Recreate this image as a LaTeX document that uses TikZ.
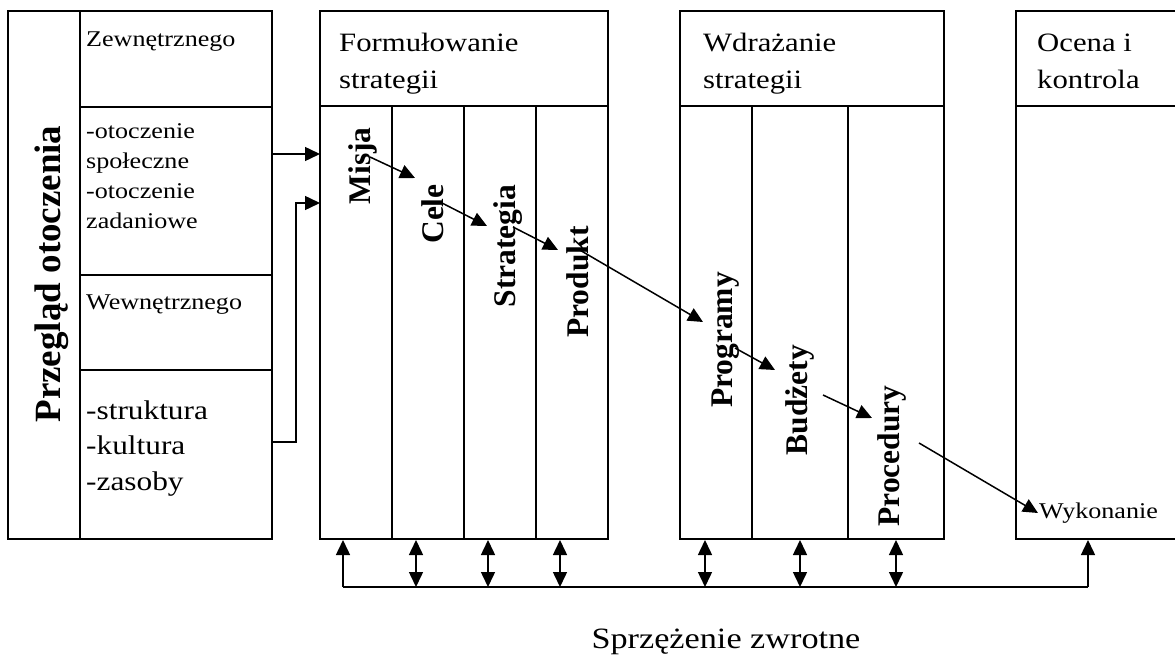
\documentclass[tikz,border=0pt]{standalone}
\usepackage{fontspec}
\setmainfont{Liberation Serif}[FakeStretch=1.16]
\newfontfamily\uprightserif{Liberation Serif}
\usetikzlibrary{arrows.meta}

\begin{document}
\begin{tikzpicture}[x=1pt,y=-1pt,
  panel/.style={draw=black,line width=1.8pt,inner sep=0pt,outer sep=0pt,minimum height=528pt},
  rule/.style={draw=black,line width=1.8pt},
  conn/.style={line width=1.5pt,-{Triangle[length=15pt,width=14pt]}},
  both/.style={line width=1.5pt,{Triangle[length=15pt,width=14pt]}-{Triangle[length=15pt,width=14pt]}},
  plain/.style={line width=1.5pt},
  % multi-line texts are placed by the baseline of their last line
  small/.style={anchor=base west,inner sep=0pt,align=left,font=\fontsize{22.5}{30.3}\selectfont},
  large/.style={anchor=base west,inner sep=0pt,align=left,font=\fontsize{27}{35.5}\selectfont},
  header/.style={anchor=base west,inner sep=0pt,align=left,font=\fontsize{26.5}{37}\selectfont},
  stage/.style={rotate=90,anchor=base,inner sep=0pt,font=\uprightserif\bfseries\fontsize{31.5}{36}\selectfont},
]
\useasboundingbox (0,0) rectangle (1175,655);

% ---- panels ----
\node[panel,minimum width=264pt] (review) at (140,275) {};
\node[panel,minimum width=288pt] (form)   at (464,275) {};
\node[panel,minimum width=264pt] (impl)   at (812,275) {};
\node[panel,minimum width=169pt] (eval)   at (1100.5,275) {};

% inner divisions of the review panel
\draw[rule] (80,11) -- (80,539);
\draw[rule] (80,107) -- (272,107);
\draw[rule] (80,275) -- (272,275);
\draw[rule] (80,370) -- (272,370);

% headers and columns
\draw[rule] (320,106) -- (608,106);
\foreach \c in {392,464,536} \draw[rule] (\c,106) -- (\c,539);
\draw[rule] (680,106) -- (944,106);
\foreach \c in {752,848} \draw[rule] (\c,106) -- (\c,539);
\draw[rule] (1016,106) -- (1180,106);

% ---- texts ----
\node[stage,font=\uprightserif\bfseries\fontsize{37}{42}\selectfont] (review-t) at (60,274) {Przegląd otoczenia};
\node[small] (ext)      at (86,47)  {Zewnętrznego};
\node[small] (ext-list) at (86,229) {-otoczenie\\społeczne\\-otoczenie\\zadaniowe};
\node[small] (int)      at (86,309) {Wewnętrznego};
\node[large] (int-list) at (86,490) {-struktura\\-kultura\\-zasoby};

\node[header] (form-t) at (339,89)  {Formułowanie\\strategii};
\node[header] (impl-t) at (703,89)  {Wdrażanie\\strategii};
\node[header] (eval-t) at (1037,89) {Ocena i\\kontrola};

\node[stage] (misja)    at (370,166) {Misja};
\node[stage] (cele)     at (443,214) {Cele};
\node[stage] (strat)    at (515,246) {Strategia};
\node[stage] (produkt)  at (588,282) {Produkt};
\node[stage] (programy) at (732,340) {Programy};
\node[stage] (budzety)  at (807,400) {Budżety};
\node[stage] (proc)     at (899,456) {Procedury};
\node[small] (wyk)      at (1039,518) {Wykonanie};

\node[anchor=base,inner sep=0pt,font=\fontsize{29.5}{34}\selectfont] (feedback) at (726,648) {Sprzężenie zwrotne};

% ---- inputs from the review panel ----
\coordinate (ext-out)  at (272,154);
\coordinate (form-in1) at (320,154);
\coordinate (int-out)  at (272,442);
\coordinate (form-in2) at (320,203);
\draw[conn] (ext-out) -- (form-in1);
\draw[conn] (int-out) -- ++(24,0) |- (form-in2);

% ---- chain of stages ----
\coordinate (m1) at (370,157); \coordinate (m2) at (415,178);
\coordinate (c1) at (442,203); \coordinate (c2) at (487,226);
\coordinate (s1) at (513,227); \coordinate (s2) at (558,250);
\coordinate (p1) at (578,249); \coordinate (p2) at (703,322);
\coordinate (g1) at (735,348); \coordinate (g2) at (775,370);
\coordinate (b1) at (823,395); \coordinate (b2) at (872,418);
\coordinate (r1) at (919,443); \coordinate (r2) at (1038,513);
\draw[conn] (m1) -- (m2);
\draw[conn] (c1) -- (c2);
\draw[conn] (s1) -- (s2);
\draw[conn] (p1) -- (p2);
\draw[conn] (g1) -- (g2);
\draw[conn] (b1) -- (b2);
\draw[conn] (r1) -- (r2);

% ---- feedback loop ----
\coordinate (fb-left)  at (343,587);
\coordinate (fb-right) at (1088,587);
\draw[plain] (fb-left) -- (fb-right);
\draw[conn] (fb-left) -- (343,540);
\draw[conn] (fb-right) -- (1088,540);
\foreach \c in {416,488,560,705,800,896}
  \draw[both] (\c,540) -- (\c,587);
\end{tikzpicture}
\end{document}
